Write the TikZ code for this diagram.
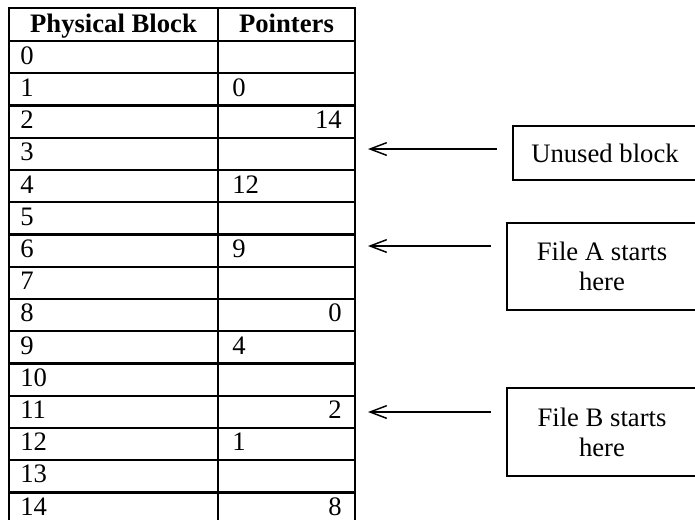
\documentclass[tikz,border=0pt]{standalone}
\usepackage{fontspec}
\setmainfont{Liberation Serif}
\usetikzlibrary{arrows.meta}

\begin{document}
\begin{tikzpicture}[
  x=0.75pt, y=-0.75pt,
  font=\fontsize{20}{22.5}\selectfont,
  every node/.append style={inner sep=0pt},
  rule/.style={line width=1.7pt, line cap=rect},
  head/.style={anchor=base, font=\fontsize{20}{22.5}\selectfont\bfseries},
  cell/.style={anchor=west},
  rcell/.style={anchor=east},
  note/.style={draw, line width=1.6pt, align=center, minimum width=142.5pt},
  ptr/.style={line width=1.1pt, -{Straight Barb[length=12.5pt, width=9.5pt]}}
  ]
  \path[use as bounding box, clip] (0,0) rectangle (695,519);

  % table grid
  \draw[rule] (9,8) -- (355,8);
  \foreach \k in {0,...,14}
    \draw[rule] (9,41+\k*32.25) -- (355,41+\k*32.25);
  \foreach \x in {9,218,355}
    \draw[rule] (\x,8) -- (\x,530);

  % headers
  \node[head] (hblock) at (113.5,32.5) {Physical Block};
  \node[head] (hptr) at (286.5,32.5) {Pointers};

  % block numbers
  \foreach \i in {0,...,14}
    \node[cell] (b\i) at (20,55.5+\i*32.2) {\i};

  % pointers
  \foreach \i/\v in {1/0,4/12,6/9,9/4,12/1}
    \node[cell] (p\i) at (232,55.5+\i*32.2) {\v};
  \foreach \i/\v in {2/14,8/0,11/2,14/8}
    \node[rcell] (p\i) at (342,55.5+\i*32.2) {\v};

  % notes
  \node[note, minimum width=138pt, minimum height=40.5pt] (unused) at (605,153) {Unused block};
  \node[note, minimum height=65.25pt] (filea) at (602,266.5) {File A starts\\here};
  \node[note, minimum height=66pt] (fileb) at (602,432) {File B starts\\here};

  \coordinate (e3) at (368,149);
  \coordinate (e6) at (368,246);
  \coordinate (e11) at (368,412);

  \draw[ptr] (e3 -| unused.west) ++(-15,0) -- (e3);
  \draw[ptr] (e6 -| filea.west) ++(-15,0) -- (e6);
  \draw[ptr] (e11 -| fileb.west) ++(-15,0) -- (e11);
\end{tikzpicture}
\end{document}
